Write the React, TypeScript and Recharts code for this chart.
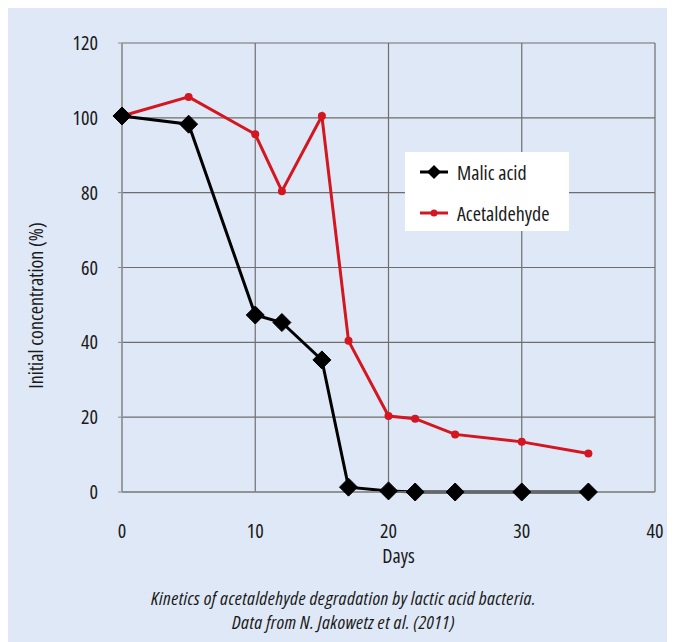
import {
  CartesianGrid,
  Legend,
  Line,
  LineChart,
  XAxis,
  YAxis,
} from "recharts";

const days = [0, 5, 10, 12, 15, 17, 20, 22, 25, 30, 35];
const malicAcid = [100.5, 98.3, 47.3, 45.3, 35.3, 1.3, 0.3, 0, 0, 0, 0];
const acetaldehyde = [100.5, 105.6, 95.6, 80.4, 100.5, 40.4, 20.3, 19.6, 15.4, 13.4, 10.3];
const xTicks = [0, 10, 20, 30, 40];
const yTicks = [0, 20, 40, 60, 80, 100, 120];
const captionLines = [
  "Kinetics of acetaldehyde degradation by lactic acid bacteria.",
  "Data from N. Jakowetz et al. (2011)",
];

const data = days.map((d, i) => ({
  day: d,
  malic: malicAcid[i],
  acet: acetaldehyde[i],
}));

const FONT = "'Open Sans', sans-serif";
const TEXT = { fontFamily: FONT, fontStretch: "condensed" as const, fill: "#1a1a1a" };
const TICK = { ...TEXT, fontSize: 20 };
const RED = "#d3161f";
const BG = "#dfe8f6";

function Diamond(props: any) {
  const { cx, cy, index } = props;
  if (cx == null || cy == null) return <g key={index} />;
  const r = 9;
  return (
    <path
      key={index}
      d={`M${cx},${cy - r} L${cx + r},${cy} L${cx},${cy + r} L${cx - r},${cy} Z`}
      fill="#000"
      stroke="#000"
      strokeWidth={1}
      strokeLinejoin="round"
    />
  );
}

function LegendBox() {
  return (
    <div style={{ background: "#fff", width: 164, height: 79, position: "relative" }}>
      {[
        { name: "Malic acid", color: "#000", diamond: true, y: 20 },
        { name: "Acetaldehyde", color: RED, diamond: false, y: 61 },
      ].map((e) => (
        <div key={e.name} style={{ position: "absolute", left: 0, top: e.y - 14, height: 28, display: "flex", alignItems: "center" }}>
          <svg width={52} height={28}>
            <line x1={15} x2={43} y1={14} y2={14} stroke={e.color} strokeWidth={3} />
            {e.diamond ? (
              <path d="M29,7 L36,14 L29,21 L22,14 Z" fill="#000" />
            ) : (
              <circle cx={29} cy={14} r={3.5} fill={RED} />
            )}
          </svg>
          <span style={{ fontFamily: FONT, fontStretch: "condensed", fontSize: 20, color: "#1a1a1a" }}>{e.name}</span>
        </div>
      ))}
    </div>
  );
}

export default function App() {
  return (
    <div style={{ position: "relative", marginLeft: -3, width: 665, height: 634, background: BG }}>
      <LineChart width={665} height={570} data={data} margin={{ top: 35, right: 15, left: 57, bottom: 46 }}>
        <CartesianGrid stroke="#6e6e6e" strokeWidth={1.2} />
        <XAxis
          dataKey="day"
          type="number"
          domain={[0, 40]}
          ticks={xTicks}
          height={40}
          tick={TICK}
          tickLine={false}
          tickMargin={26}
          axisLine={{ stroke: "#8a8a8a", strokeWidth: 1.5 }}
          label={({ viewBox }: any) => (
            <text
              x={viewBox.x + viewBox.width / 2 + 10}
              y={viewBox.y + 66}
              textAnchor="middle"
              dominantBaseline="middle"
              style={{ ...TEXT, fontSize: 20 }}
            >
              Days
            </text>
          )}
        />
        <YAxis
          type="number"
          domain={[0, 120]}
          ticks={yTicks}
          width={60}
          tick={TICK}
          tickSize={4}
          tickMargin={20}
          tickLine={{ stroke: "#8a8a8a" }}
          axisLine={{ stroke: "#9a9a9a", strokeWidth: 1.5 }}
          label={({ viewBox }: any) => {
            const x = viewBox.x - 24;
            const y = viewBox.y + viewBox.height / 2 + 38;
            return (
              <text
                x={x}
                y={y}
                transform={`rotate(-90, ${x}, ${y})`}
                textAnchor="middle"
                dominantBaseline="middle"
                style={{ ...TEXT, fontSize: 20 }}
              >
                Initial concentration (%)
              </text>
            );
          }}
        />
        <Legend
          layout="horizontal"
          verticalAlign="middle"
          align="center"
          wrapperStyle={{ left: 400, top: 144, width: 164, height: 79 }}
          content={() => <LegendBox />}
        />
        <Line
          isAnimationActive={false}
          type="linear"
          dataKey="acet"
          name="Acetaldehyde"
          stroke={RED}
          strokeWidth={3}
          dot={{ r: 4, fill: RED, stroke: RED, strokeWidth: 0 }}
          activeDot={false}
        />
        <Line
          isAnimationActive={false}
          type="linear"
          dataKey="malic"
          name="Malic acid"
          stroke="#000"
          strokeWidth={3}
          dot={<Diamond />}
          activeDot={false}
        />
      </LineChart>
      {captionLines.map((line, i) => (
        <div
          key={line}
          style={{
            position: "absolute",
            left: 6,
            top: 579 + i * 24,
            width: 665,
            textAlign: "center",
            fontFamily: FONT,
            fontStretch: "condensed",
            fontStyle: "italic",
            fontSize: 19,
            letterSpacing: 0.4,
            lineHeight: "22px",
            color: "#1a1a1a",
          }}
        >
          {line}
        </div>
      ))}
    </div>
  );
}
